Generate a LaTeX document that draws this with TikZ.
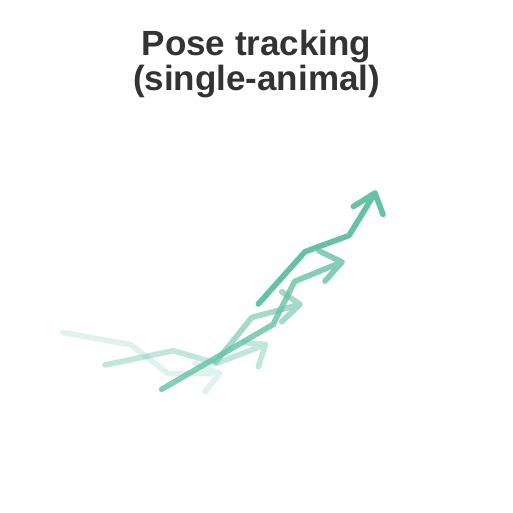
\documentclass[tikz,border=0pt]{standalone}
\usepackage{fontspec}
\setmainfont{Liberation Sans}
\definecolor{trackgreen}{HTML}{66C2A5}
\definecolor{titlegray}{HTML}{333333}
\tikzset{
  traj/.style={draw=trackgreen, line width=5.6pt, line cap=round, line join=round},
  titletext/.style={font=\bfseries\fontsize{35}{40}\selectfont, text=titlegray, anchor=base, inner sep=0pt}
}
\begin{document}
\begin{tikzpicture}[x=1pt,y=-1pt]
\useasboundingbox[fill=white] (0,0) rectangle (512,513);
\node[titletext] (t1) at (256.5,55.2) {Pose tracking};
\node[titletext] (t2) at (256.5,90.3) {(single-animal)};
% oldest (lightest) to newest (darkest)
\draw[traj, draw opacity=0.2] (62.7,332.5) -- (130.5,344.5) -- (168.3,373.8) -- (219.5,373.5)
      (195,363.3) -- (219.5,373.5) -- (205,391.7);
\draw[traj, draw opacity=0.4] (105,365) -- (173.3,350.7) -- (216.7,363.3) -- (265.5,344.5)
      (244,342.5) -- (265.5,344.5) -- (258.3,366.7);
\draw[traj, draw opacity=0.6] (216,362) -- (251.7,317.5) -- (300,304.5)
      (281.7,291.7) -- (300,304.5) -- (281.7,321.7);
\draw[traj, draw opacity=0.8] (161.7,389.3) -- (273,324.5) -- (294.5,281.5) -- (342,262)
      (319,251) -- (342,262) -- (325,281);
\draw[traj] (258.3,304) -- (305,251.7) -- (349,235.5) -- (375,193)
      (353.3,206.5) -- (375,193) -- (383,214.5);
\end{tikzpicture}
\end{document}
